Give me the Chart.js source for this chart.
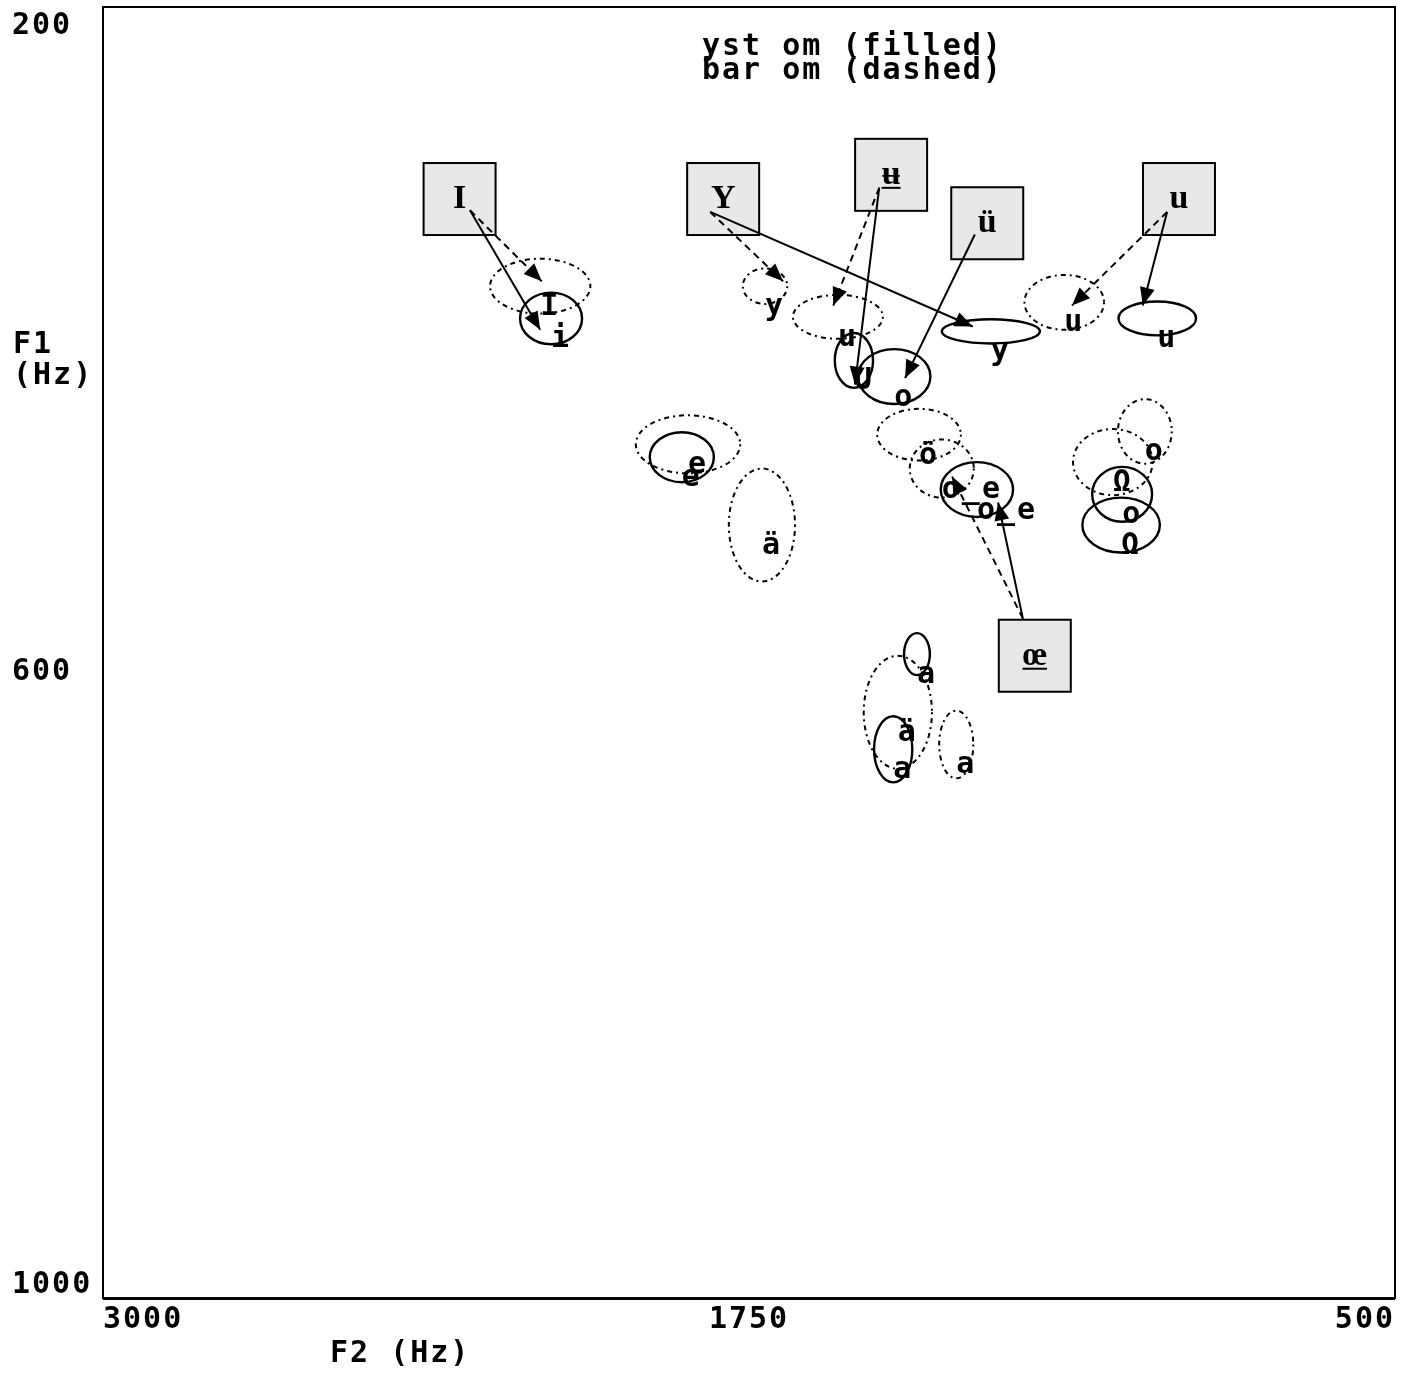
<!DOCTYPE html>
<html>
<head>
<meta charset="utf-8">
<script src="https://cdn.jsdelivr.net/npm/chart.js@4.4.1/dist/chart.umd.min.js"></script>
<style>
  html, body { margin: 0; padding: 0; background: #fff; }
  #wrap { width: 1412px; height: 1376px; }
</style>
</head>
<body>
<div id="wrap"><canvas id="chart" width="1412" height="1376"></canvas></div>
<script>
// ── Axis ticks ────────────────────────────────────────────────────────────────
const f2Ticks = [3000, 1750, 500];
const f1Ticks = [200, 600, 1000];

// ── yst om (filled / solid ellipses) ──────────────────────────────────────────
const ystLabels = ["i", "e", "U", "o", "y", "u", "o_e", "o", "Ω", "a", "a"];
const ystF2     = [2133, 1880, 1547, 1469, 1282, 960, 1309, 1028, 1030, 1425, 1471];
const ystF1     = [393, 479, 419, 429, 401, 393, 499, 502, 521, 601, 660];
const ystSdF2   = [60, 62, 37, 70, 95, 75, 70, 58, 75, 25, 37];
const ystSdF1   = [16, 15.5, 17, 17, 7.5, 10.5, 17, 17, 17, 13, 20.5];

// ── bar om (dashed ellipses) ──────────────────────────────────────────────────
const barLabels = ["I", "e", "ä", "y", "u", "u", "ö", "o_e", "o", "Ω", "ä", "a"];
const barF2     = [2154, 1868, 1725, 1719, 1578, 1140, 1421, 1377, 984, 1046, 1462, 1349];
const barF1     = [373, 471, 521, 373, 392, 383, 465, 486, 463, 482, 637, 657];
const barSdF2   = [97, 101, 64, 43, 87, 77, 81, 62, 52, 77, 66, 33];
const barSdF1   = [17, 18, 35, 11, 13.6, 17, 16, 18, 20, 20.5, 35, 21];

// ── Annotation boxes ──────────────────────────────────────────────────────────
const boxLetters   = ["I", "Y", "ʉ", "ü", "u", "œ"];
const boxUnderline = [false, false, true, false, false, true];
const boxF2        = [2310, 1800, 1475, 1289, 918, 1197];
const boxF1        = [319, 319, 304, 334, 319, 602];

// ── Arrows (from box letter to ellipse) ───────────────────────────────────────
const arrowFromF2 = [2290, 2290, 1825, 1825, 1498, 1498, 1313, 941, 941, 1220, 1220];
const arrowFromF1 = [326, 326, 327, 327, 312, 312, 341, 327, 327, 579, 579];
const arrowToF2   = [2154, 2151, 1317, 1684, 1545, 1587, 1448, 988, 1125, 1268, 1357];
const arrowToF1   = [400, 370, 398, 370, 434, 385, 430, 385, 385, 507, 491];
const arrowDashed = [false, true, false, true, false, true, false, false, true, false, true];

const MONO = 'bold 30px "DejaVu Sans Mono", monospace';

function monoText(ctx, s, x, y, align) {
  ctx.font = MONO;
  ctx.letterSpacing = "2px";
  ctx.textAlign = align || "left";
  ctx.textBaseline = "alphabetic";
  ctx.fillStyle = "#000";
  ctx.fillText(s, x, y);
  ctx.letterSpacing = "0px";
}

// ── Plugin: ellipses, labels, boxes, axes, arrowheads ────────────────────────
const vowelPlugin = {
  id: "vowels",
  beforeDatasetsDraw(chart) {
    const { ctx, chartArea: a, scales: { x, y } } = chart;
    ctx.save();

    const drawSet = (f2, f1, s2, s1, labels, dashed) => {
      f2.forEach((v, i) => {
        const cx = x.getPixelForValue(v);
        const cy = y.getPixelForValue(f1[i]);
        const rx = Math.abs(x.getPixelForValue(v + s2[i]) - cx);
        const ry = Math.abs(y.getPixelForValue(f1[i] + s1[i]) - cy);
        ctx.beginPath();
        ctx.ellipse(cx, cy, rx, ry, 0, 0, Math.PI * 2);
        ctx.strokeStyle = "#000";
        ctx.lineWidth = dashed ? 2 : 2.4;
        ctx.setLineDash(dashed ? [2, 4, 5, 4] : []);
        ctx.stroke();
        ctx.setLineDash([]);
        monoText(ctx, labels[i], cx, cy + 29);
      });
    };
    drawSet(barF2, barF1, barSdF2, barSdF1, barLabels, true);
    drawSet(ystF2, ystF1, ystSdF2, ystSdF1, ystLabels, false);

    // title
    monoText(ctx, "yst om (filled)", 702, 55);
    monoText(ctx, "bar om (dashed)", 702, 79);

    // boxes
    boxLetters.forEach((t, i) => {
      const cx = x.getPixelForValue(boxF2[i]);
      const cy = y.getPixelForValue(boxF1[i]);
      ctx.fillStyle = "#e8e8e8";
      ctx.fillRect(cx - 36, cy - 36, 72, 72);
      ctx.strokeStyle = "#000";
      ctx.lineWidth = 2;
      ctx.strokeRect(cx - 36, cy - 36, 72, 72);
      ctx.fillStyle = "#000";
      ctx.font = 'bold 34px "Liberation Serif", "DejaVu Serif", serif';
      ctx.textAlign = "center";
      ctx.textBaseline = "middle";
      ctx.fillText(t, cx, cy);
      if (boxUnderline[i]) {
        const w = ctx.measureText(t).width;
        ctx.fillRect(cx - w / 2, cy + 12, w, 2);
      }
    });

    // frame
    ctx.strokeStyle = "#000";
    ctx.lineWidth = 2;
    ctx.strokeRect(a.left, a.top, a.right - a.left, a.bottom - a.top);
    ctx.fillStyle = "#000";
    ctx.fillRect(a.left, a.bottom, a.right - a.left, 2);

    // x ticks (inner aligned)
    f2Ticks.forEach((v, i) => {
      const px = x.getPixelForValue(v);
      const align = i === 0 ? "left" : i === f2Ticks.length - 1 ? "right" : "center";
      monoText(ctx, String(v), px, a.bottom + 30, align);
    });
    // y ticks
    f1Ticks.forEach((v, i) => {
      const py = y.getPixelForValue(v);
      const off = i === f1Ticks.length - 1 ? -5 : 27;
      monoText(ctx, String(v), 12, py + off);
    });

    // axis titles
    monoText(ctx, "F2 (Hz)", 330, 1362);
    monoText(ctx, "F1", 13, 353);
    monoText(ctx, "(Hz)", 13, 384);

    ctx.restore();
  },
  afterDatasetsDraw(chart) {
    const { ctx, scales: { x, y } } = chart;
    ctx.save();
    ctx.fillStyle = "#000";
    arrowToF2.forEach((v, i) => {
      const x0 = x.getPixelForValue(arrowFromF2[i]);
      const y0 = y.getPixelForValue(arrowFromF1[i]);
      const x1 = x.getPixelForValue(v);
      const y1 = y.getPixelForValue(arrowToF1[i]);
      const ang = Math.atan2(y1 - y0, x1 - x0);
      const len = 18, half = 7.5;
      ctx.beginPath();
      ctx.moveTo(x1, y1);
      ctx.lineTo(x1 - len * Math.cos(ang) + half * Math.sin(ang), y1 - len * Math.sin(ang) - half * Math.cos(ang));
      ctx.lineTo(x1 - len * Math.cos(ang) - half * Math.sin(ang), y1 - len * Math.sin(ang) + half * Math.cos(ang));
      ctx.closePath();
      ctx.fill();
    });
    ctx.restore();
  }
};

// ── Datasets ──────────────────────────────────────────────────────────────────
const arrowSets = arrowToF2.map((v, i) => ({
  data: [{ x: arrowFromF2[i], y: arrowFromF1[i] }, { x: v, y: arrowToF1[i] }],
  showLine: true,
  borderColor: "#000",
  borderWidth: 2,
  borderDash: arrowDashed[i] ? [7, 5] : [],
  pointRadius: 0,
}));

new Chart(document.getElementById("chart"), {
  type: "scatter",
  data: {
    datasets: [
      { label: "yst om", data: ystF2.map((v, i) => ({ x: v, y: ystF1[i] })), pointRadius: 0 },
      { label: "bar om", data: barF2.map((v, i) => ({ x: v, y: barF1[i] })), pointRadius: 0 },
      ...arrowSets,
    ],
  },
  options: {
    responsive: false,
    animation: false,
    devicePixelRatio: 1,
    layout: { padding: { left: 103, top: 7, right: 17, bottom: 78 } },
    plugins: { legend: { display: false }, tooltip: { enabled: false } },
    scales: {
      x: { type: "linear", min: 500, max: 3000, reverse: true, display: false },
      y: { type: "linear", min: 200, max: 1000, reverse: true, display: false },
    },
  },
  plugins: [vowelPlugin],
});
</script>
</body>
</html>
